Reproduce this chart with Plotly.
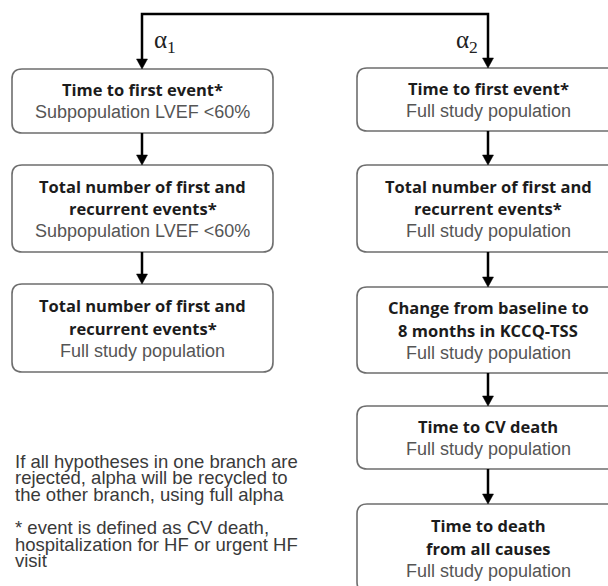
import plotly.graph_objects as go

W, H = 608, 586

# ---- diagram content (text) ----
left_titles = [
    ["Time to first event*"],
    ["Total number of first and", "recurrent events*"],
    ["Total number of first and", "recurrent events*"],
]
left_subs = ["Subpopulation LVEF <60%", "Subpopulation LVEF <60%", "Full study population"]

right_titles = [
    ["Time to first event*"],
    ["Total number of first and", "recurrent events*"],
    ["Change from baseline to", "8 months in KCCQ-TSS"],
    ["Time to CV death"],
    ["Time to death", "from all causes"],
]
right_subs = ["Full study population"] * 5

branch_labels = ["α<sub>1</sub>", "α<sub>2</sub>"]

note_lines = [
    "If all hypotheses in one branch are",
    "rejected, alpha will be recycled to",
    "the other branch, using full alpha",
    "",
    "* event is defined as CV death,",
    "hospitalization for HF or urgent HF",
    "visit",
]

# ---- layout geometry ----
left_x = (12, 273)
right_x = (357, 619)
left_y = [(69, 133), (165, 252), (284, 372)]
right_y = [(68, 131), (165, 252), (287, 373), (406, 469), (504, 592)]
top_y = 14
line_step = 22.5
note_x, note_y0, note_step = 13, 461, 16.6

TITLE_FONT = dict(family="Open Sans", size=16.5, color="#1c1c1c")
SUB_FONT = dict(family="Liberation Sans", size=18, color="#555555")
BORDER = "#6e6e6e"

shapes = []
annotations = []


def rrect(x0, y0, x1, y1, r=10):
    return (f"M{x0+r},{y0} L{x1-r},{y0} Q{x1},{y0} {x1},{y0+r} "
            f"L{x1},{y1-r} Q{x1},{y1} {x1-r},{y1} L{x0+r},{y1} "
            f"Q{x0},{y1} {x0},{y1-r} L{x0},{y0+r} Q{x0},{y0} {x0+r},{y0} Z")


def arrow_down(x, y0, y1):
    shapes.append(dict(type="line", x0=x, x1=x, y0=y0, y1=y1 - 8,
                       line=dict(color="black", width=2.5)))
    shapes.append(dict(type="path",
                       path=f"M{x-5.5},{y1-10} L{x+5.5},{y1-10} L{x},{y1} Z",
                       fillcolor="black", line=dict(color="black", width=0.5)))


def add_box(xr, yr, titles, sub):
    x0, x1 = xr
    y0, y1 = yr
    shapes.append(dict(type="path", path=rrect(x0, y0, x1, y1),
                       line=dict(color=BORDER, width=1.6), fillcolor="white"))
    lines = [(t, True) for t in titles] + [(sub, False)]
    n = len(lines)
    yc = (y0 + min(y1, y0 + 88)) / 2 if y1 > H else (y0 + y1) / 2
    cx = (x0 + x1) / 2
    for i, (t, bold) in enumerate(lines):
        yy = yc + (i - (n - 1) / 2) * line_step
        if bold:
            txt = f"<b>{t}</b>"
            font = TITLE_FONT
        else:
            txt = t
            font = SUB_FONT
        annotations.append(dict(x=cx, y=yy, xref="x", yref="y", text=txt,
                                showarrow=False, font=font,
                                xanchor="center", yanchor="middle"))


for yr, t, s in zip(left_y, left_titles, left_subs):
    add_box(left_x, yr, t, s)
for yr, t, s in zip(right_y, right_titles, right_subs):
    add_box(right_x, yr, t, s)

lcx = 142
rcx = 488

for a, b in zip(left_y[:-1], left_y[1:]):
    arrow_down(lcx, a[1], b[0])
for a, b in zip(right_y[:-1], right_y[1:]):
    arrow_down(rcx, a[1], b[0])

shapes.append(dict(type="path",
                   path=f"M{lcx},{left_y[0][0]-8} L{lcx},{top_y} L{rcx},{top_y} L{rcx},{right_y[0][0]-8}",
                   line=dict(color="black", width=2.5)))
arrow_down(lcx, left_y[0][0] - 9, left_y[0][0])
arrow_down(rcx, right_y[0][0] - 9, right_y[0][0])

annotations.append(dict(x=lcx + 10, y=41, xref="x", yref="y", text=branch_labels[0],
                        showarrow=False, xanchor="left", yanchor="middle",
                        font=dict(family="Liberation Serif", size=25, color="#222")))
annotations.append(dict(x=rcx - 8, y=41, xref="x", yref="y", text=branch_labels[1],
                        showarrow=False, xanchor="right", yanchor="middle",
                        font=dict(family="Liberation Serif", size=25, color="#222")))

for i, t in enumerate(note_lines):
    if not t:
        continue
    annotations.append(dict(x=note_x, y=note_y0 + i * note_step, xref="x", yref="y", text=t,
                            showarrow=False, xanchor="left", yanchor="middle",
                            font=dict(family="Liberation Sans", size=18.5, color="#3a3a3a")))

fig = go.Figure()
fig.update_layout(
    width=W, height=H,
    margin=dict(l=0, r=0, t=0, b=0),
    paper_bgcolor="white", plot_bgcolor="white",
    xaxis=dict(range=[0, W], visible=False, fixedrange=True),
    yaxis=dict(range=[H, 0], visible=False, fixedrange=True),
    shapes=shapes, annotations=annotations, showlegend=False,
)
fig.write_html("out.html", config={"displayModeBar": False},
               post_script="document.body.style.margin='0px';document.body.style.overflow='hidden';")
